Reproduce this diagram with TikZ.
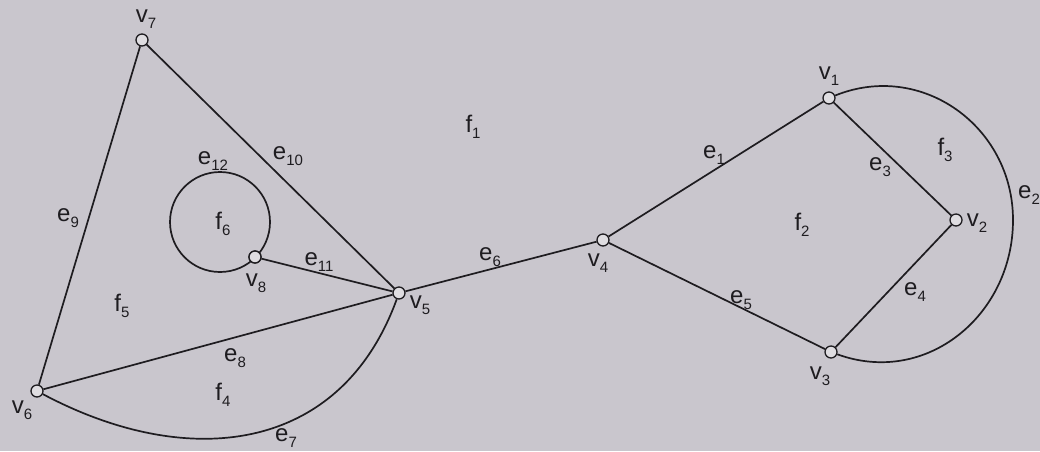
\documentclass[tikz,border=0pt]{standalone}
\usepackage{fontspec}
\setmainfont{Liberation Sans}
\definecolor{paper}{RGB}{201,198,205}
\definecolor{ink}{RGB}{30,28,32}
\newcommand\lb[2]{#1\raisebox{-6pt}{\fontsize{15}{15}\selectfont #2}}
\tikzset{
  vtx/.style={circle,draw=ink,fill=paper!60!white,line width=1.3pt,minimum size=12pt,inner sep=0pt},
  edge/.style={draw=ink,line width=1.7pt},
  lbl/.style={inner sep=0pt,text=ink,font=\fontsize{24}{26}\selectfont}
}
\begin{document}
\begin{tikzpicture}[x=1pt,y=1pt]
\useasboundingbox (0,-451) rectangle (1040,0);
\fill[paper] (0,-451) rectangle (1040,0);
% loop centre and helper coordinates
\coordinate (c6) at (220,-222);
\coordinate (e2r) at (1013,-220);
% vertices
\node[vtx] (v1) at (829,-98) {};
\node[vtx] (v2) at (956,-220) {};
\node[vtx] (v3) at (831,-352) {};
\node[vtx] (v4) at (603,-240) {};
\node[vtx] (v5) at (399,-293) {};
\node[vtx] (v6) at (37,-391) {};
\node[vtx] (v7) at (142,-40) {};
\node[vtx] (v8) at (255,-257) {};
% edges
\draw[edge] (v4) -- (v1);
\draw[edge] (v1) -- (v2);
\draw[edge] (v2) -- (v3);
\draw[edge] (v4) -- (v3);
\draw[edge] (v5) -- (v4);
\draw[edge] (v6) -- (v7);
\draw[edge] (v7) -- (v5);
\draw[edge] (v8) -- (v5);
\draw[edge] (v6) -- (v5);
\draw[edge] (v1) to[out=22,in=90,looseness=1.1] (e2r) to[out=-90,in=-20,looseness=1.1] (v3);
\draw[edge] (v6) to[out=-28,in=-110,looseness=1.15] (v5);
\draw[edge] (c6) circle[radius=50];
% redraw vertex 8 over loop
\node[vtx] at (v8) {};
% labels
\node[lbl] at (146,-19) {\lb{v}{7}};
\node[lbl] at (829,-76) {\lb{v}{1}};
\node[lbl] at (977,-223) {\lb{v}{2}};
\node[lbl] at (820,-376) {\lb{v}{3}};
\node[lbl] at (598,-263) {\lb{v}{4}};
\node[lbl] at (420,-305) {\lb{v}{5}};
\node[lbl] at (22,-410) {\lb{v}{6}};
\node[lbl] at (256,-283) {\lb{v}{8}};
\node[lbl] at (714,-155) {\lb{e}{1}};
\node[lbl] at (1029,-195) {\lb{e}{2}};
\node[lbl] at (880,-167) {\lb{e}{3}};
\node[lbl] at (915,-292) {\lb{e}{4}};
\node[lbl] at (741,-300) {\lb{e}{5}};
\node[lbl] at (490,-257) {\lb{e}{6}};
\node[lbl] at (286,-438) {\lb{e}{7}};
\node[lbl] at (235,-358) {\lb{e}{8}};
\node[lbl] at (68,-218) {\lb{e}{9}};
\node[lbl] at (288,-156) {\lb{e}{10}};
\node[lbl] at (319,-262) {\lb{e}{11}};
\node[lbl] at (213,-161) {\lb{e}{12}};
\node[lbl] at (473,-127) {\lb{f}{1}};
\node[lbl] at (802,-225) {\lb{f}{2}};
\node[lbl] at (945,-150) {\lb{f}{3}};
\node[lbl] at (223,-395) {\lb{f}{4}};
\node[lbl] at (122,-306) {\lb{f}{5}};
\node[lbl] at (223,-224) {\lb{f}{6}};
\end{tikzpicture}
\end{document}
